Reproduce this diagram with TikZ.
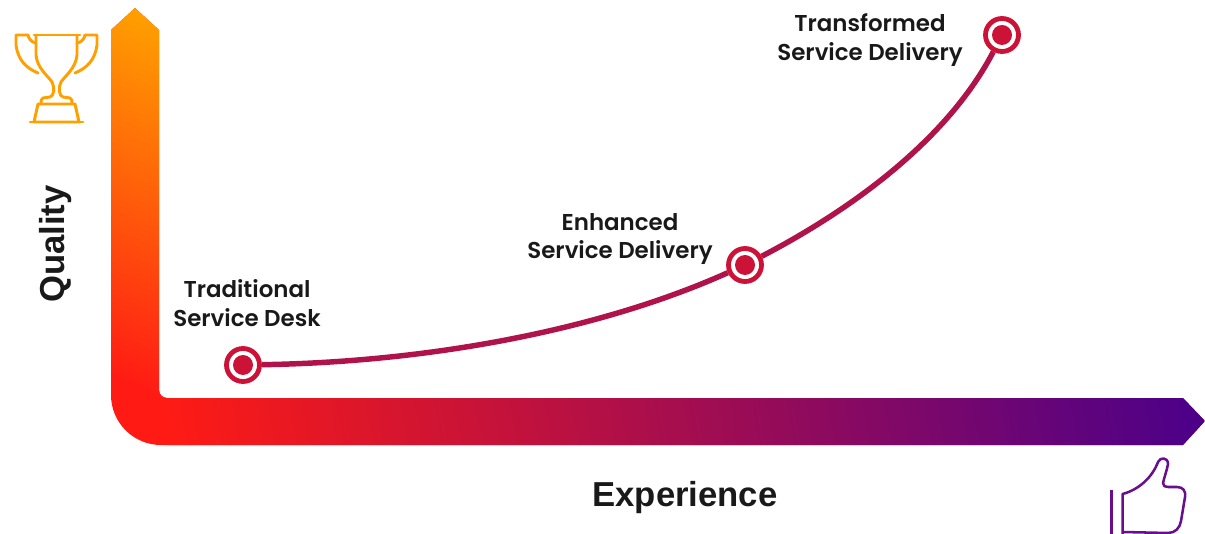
\documentclass[tikz,border=0pt]{standalone}
\usepackage{fontspec}
\setmainfont{Liberation Sans}
\newfontfamily\stagefont{Poppins SemiBold}
\definecolor{ringred}{RGB}{204,18,55}
\definecolor{curvered}{RGB}{176,18,74}
\definecolor{cuporange}{RGB}{255,160,0}
\definecolor{arrowred}{RGB}{255,27,20}
\definecolor{arrowpurple}{RGB}{72,0,140}
\definecolor{thumbpurple}{RGB}{106,15,140}
\tikzset{
    ringnode/.style={circle, draw=ringred, fill=white, line width=3.6pt, minimum size=24.75pt, inner sep=0pt,
        path picture={\fill[ringred] (path picture bounding box.center) circle (7.5pt);}},
    stagelabel/.style={align=center, font=\stagefont\fontsize{17.2}{21.7}\selectfont, text=black!90},
    axislabel/.style={font=\bfseries\fontsize{26}{30}\selectfont, text=black!90},
    curveline/.style={draw=curvered, line width=4.1pt},
    cupline/.style={draw=cuporange, line width=2.2pt, line join=round, line cap=round},
    thumbline/.style={draw=thumbpurple, line width=1.9pt, line join=round}
}

\begin{document}
\begin{tikzpicture}[x=0.75pt, y=-0.75pt]
    \useasboundingbox (0,0) rectangle (1205,534);

    \begin{scope}
        \clip (111,30) -- (135,8) -- (159,30) -- (159,390) arc (180:90:8) -- (1183,398) -- (1205,421) -- (1183,445) -- (161,445) arc (90:180:50) -- cycle;
        \fill[arrowred] (100,0) rectangle (1205,450);
        \begin{scope}
            \clip (100,0) rectangle (159,400);
            \shade[transform canvas={rotate around={-22:(135,385)}}, top color=cuporange, bottom color=arrowred] (-400,35) rectangle (400,385);
        \end{scope}
        \begin{scope}
            \clip (159,390) rectangle (1205,450);
            \shade[transform canvas={rotate around={10:(159,398)}}, left color=arrowred, right color=arrowpurple] (159,200) rectangle (1200,700);
        \end{scope}
    \end{scope}

    \node[ringnode] (trad) at (243,365) {};
    \node[ringnode] (enhanced) at (745,265) {};
    \node[ringnode] (transformed) at (1002,35) {};

    \draw[curveline] (trad) .. controls (430,362) and (600,330) .. (enhanced);
    \draw[curveline] (enhanced) .. controls (860,205) and (950,135) .. (transformed);

    \node[stagelabel] (tradtext) at (247,303) {Traditional\\Service Desk};
    \node[stagelabel] (enhancedtext) at (620,239) {Enhanced\\Service Delivery};
    \node[stagelabel] (transformedtext) at (870,40) {Transformed\\Service Delivery};

    \node[axislabel, rotate=90] (quality) at (56,244) {Quality};
    \node[axislabel] (experience) at (685,498) {Experience};

    \draw[cupline] (34,35) -- (80,35);
    \draw[cupline] (36,35) -- (36,55) .. controls (37,68) and (48,76) .. (52,82) .. controls (55,88) and (54,96) .. (50,97) -- (43,98) .. controls (41,99) and (41,101) .. (41,103);
    \draw[cupline] (77,35) -- (77,55) .. controls (76,68) and (65,76) .. (61,82) .. controls (58,88) and (59,96) .. (63,97) -- (70,98) .. controls (72,99) and (72,101) .. (72,103);
    \draw[cupline] (28,35) -- (16,35) -- (16,45) .. controls (18,60) and (26,68) .. (38,73);
    \draw[cupline] (85,35) -- (97,35) -- (97,45) .. controls (95,60) and (87,68) .. (75,73);
    \draw[cupline] (28,35) .. controls (29,39) and (31,42) .. (36,43);
    \draw[cupline] (85,35) .. controls (84,39) and (82,42) .. (77,43);
    \draw[cupline] (38,104) -- (75,104) -- (79,122) -- (34,122) -- cycle;
    \draw[cupline] (30,122) -- (83,122);

    \begin{scope}
        \clip (1100,450) rectangle (1205,534);
        \draw[thumbline] (1111.5,490) -- (1111.5,540);
        \draw[thumbline] (1122.5,540) -- (1122.5,494) .. controls (1138,490) and (1152,478) .. (1158,462) .. controls (1160,457) and (1168,457) .. (1168,464) .. controls (1167,470) and (1164,478) .. (1163,483) .. controls (1163,486) and (1165,487) .. (1168,487) -- (1177,487) .. controls (1183,487) and (1186,491) .. (1185,497) -- (1181,521) .. controls (1180,528) and (1175,533) .. (1168,533) -- (1122.5,532);
    \end{scope}
\end{tikzpicture}
\end{document}
